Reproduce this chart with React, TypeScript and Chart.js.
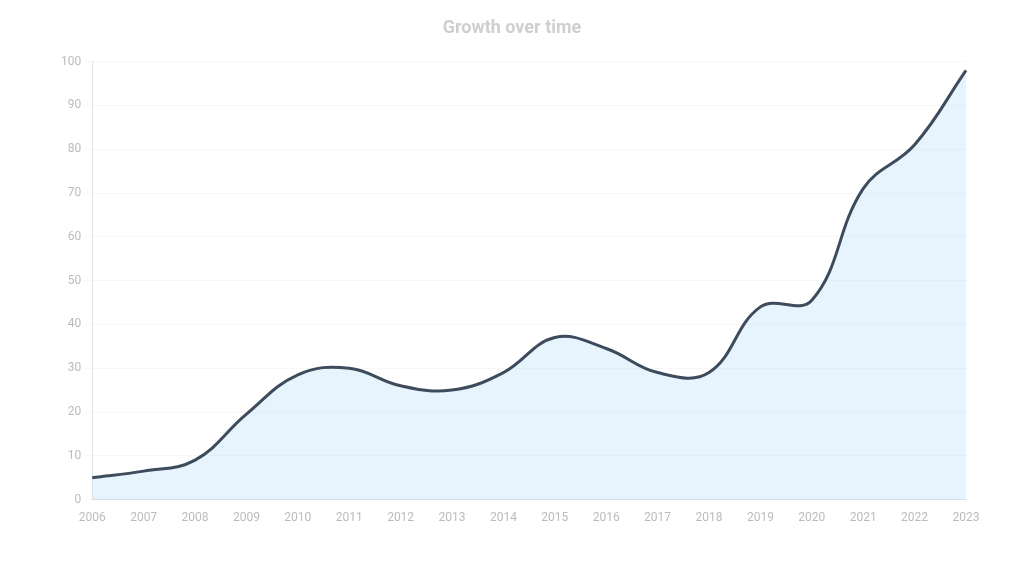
import React, { useEffect, useRef } from "react";
import { Chart, registerables } from "chart.js";

Chart.register(...registerables);

const categories = [
  "2006", "2007", "2008", "2009", "2010", "2011", "2012", "2013", "2014",
  "2015", "2016", "2017", "2018", "2019", "2020", "2021", "2022", "2023",
];
const seriesValues = [5, 6.5, 9, 19.5, 28.5, 30, 26, 25, 29, 37, 34.5, 29, 29, 44, 45.5, 71, 81, 98];
const seriesLabel = "Value";
const titleText = "Growth over time";

export default function App() {
  const ref = useRef<HTMLCanvasElement | null>(null);
  useEffect(() => {
    if (!ref.current) return;
    const chart = new Chart(ref.current, {
      type: "line",
      data: {
        labels: categories,
        datasets: [
          {
            label: seriesLabel,
            data: seriesValues,
            borderColor: "#3d4b5c",
            backgroundColor: "rgba(54,162,235,0.12)",
            borderWidth: 3,
            fill: true,
            tension: 0.4,
            pointRadius: 0,
          },
        ],
      },
      options: {
        animation: false,
        responsive: true,
        maintainAspectRatio: false,
        layout: { padding: { left: 50, right: 50, top: 10, bottom: 40 } },
        plugins: {
          legend: { display: false },
          title: {
            display: true,
            text: titleText,
            color: "#cfcfcf",
            font: { family: "Roboto", size: 18 },
            padding: { bottom: 22 },
          },
        },
        scales: {
          x: {
            grid: { display: false },
            ticks: { color: "#bbb", font: { family: "Roboto", size: 12 } },
          },
          y: {
            min: 0,
            max: 100,
            grid: { color: "rgba(0,0,0,0.03)" },
            ticks: { color: "#bbb", font: { family: "Roboto", size: 12 } },
          },
        },
      },
    });
    return () => chart.destroy();
  }, []);
  return (
    <div style={{ width: 1008, height: 560 }}>
      <canvas ref={ref} />
    </div>
  );
}
